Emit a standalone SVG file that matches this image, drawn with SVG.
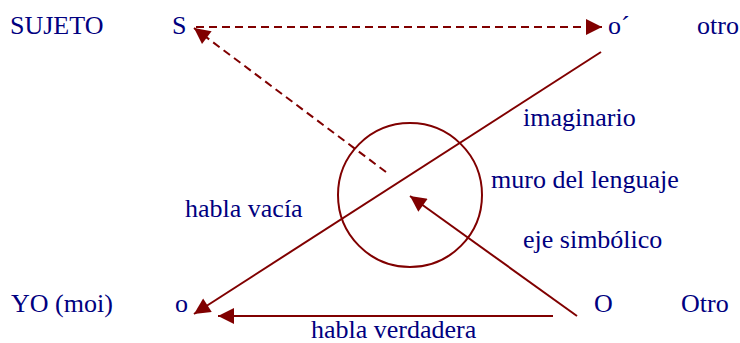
<svg xmlns="http://www.w3.org/2000/svg" width="740" height="343" viewBox="0 0 740 343">
<style>
.t text{font-size:26px;fill:#000080}
.ln{stroke:#800000;stroke-width:2;fill:none}
.dash{stroke-dasharray:8 5}
</style>
<defs>
<marker id="ahL" viewBox="0 0 10 10" refX="10" refY="5" markerWidth="18" markerHeight="16" markerUnits="userSpaceOnUse" orient="auto"><path d="M0,0L10,5L0,10z" fill="#800000"/></marker>
</defs>
<rect width="740" height="343" fill="#fff"/>
<g id="connectors">
<line class="ln dash" x1="196" y1="27" x2="602" y2="27" marker-end="url(#ahL)"/>
<line class="ln dash" x1="386" y1="172" x2="194" y2="28" marker-end="url(#ahL)"/>
<line class="ln" x1="601" y1="52" x2="194" y2="314" marker-end="url(#ahL)"/>
<line class="ln" x1="577" y1="316" x2="410" y2="196" marker-end="url(#ahL)"/>
<line class="ln" x1="553" y1="316" x2="218" y2="316" marker-end="url(#ahL)"/>
</g>
<g id="muro"><circle class="ln" cx="410" cy="195" r="72"/></g>
<g class="t" font-family="'Liberation Serif', 'Times New Roman', 'DejaVu Serif', serif">
<g id="sujeto"><text x="10" y="34">SUJETO</text></g>
<g id="S"><text x="172" y="34">S</text></g>
<g id="o-prime"><text x="608" y="34">o´</text></g>
<g id="otro"><text x="697" y="34">otro</text></g>
<g id="imaginario"><text x="523" y="126">imaginario</text></g>
<g id="muro-label"><text x="491" y="188">muro del lenguaje</text></g>
<g id="habla-vacia"><text x="185" y="217">habla vacía</text></g>
<g id="eje"><text x="523" y="248">eje simbólico</text></g>
<g id="yo"><text x="11" y="312">YO (moi)</text></g>
<g id="o"><text x="175" y="312">o</text></g>
<g id="O"><text x="594" y="312">O</text></g>
<g id="Otro"><text x="681" y="312">Otro</text></g>
<g id="habla-verdadera"><text x="311" y="338">habla verdadera</text></g>
</g>
</svg>
